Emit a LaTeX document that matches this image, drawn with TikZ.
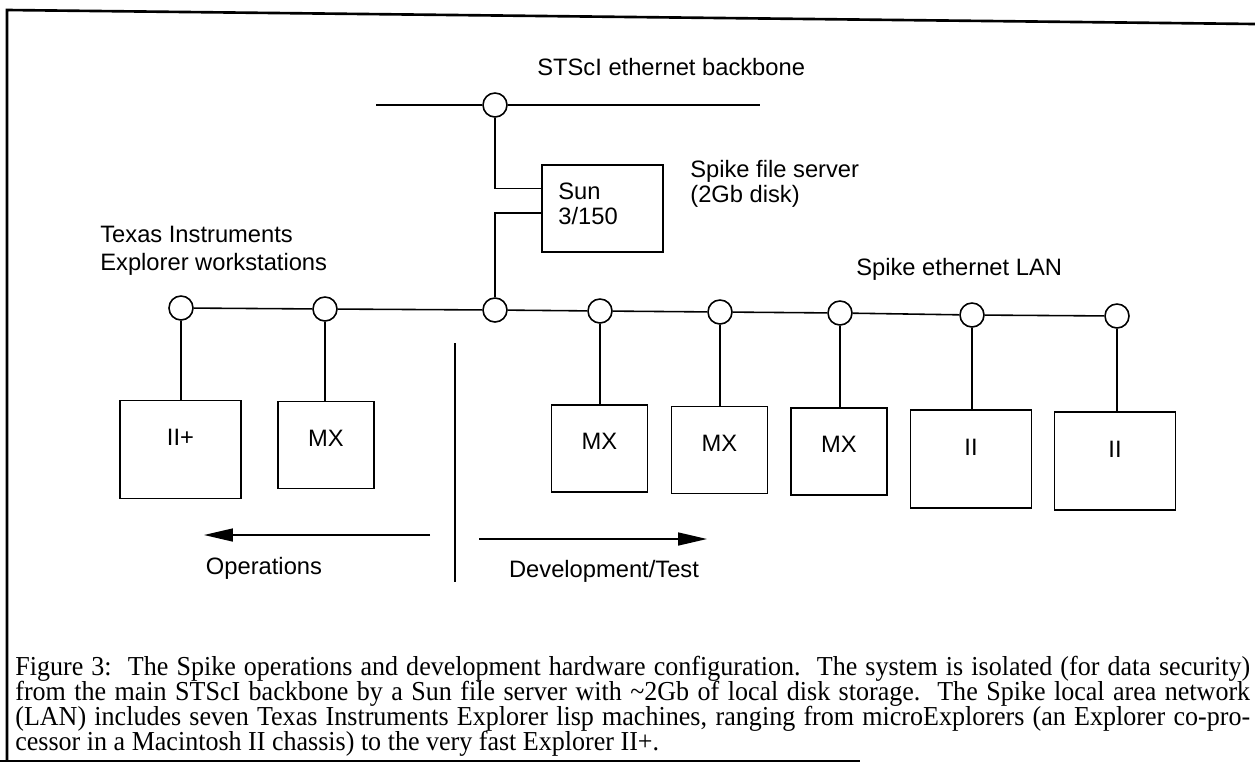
\documentclass[tikz,border=0pt]{standalone}
\usepackage{fontspec}
\usetikzlibrary{arrows.meta,calc}
\newfontfamily\lblfont{Liberation Sans}
\newfontfamily\capfont[FakeStretch=0.95]{Liberation Serif}
\def\capline#1{\makebox[24.7cm][s]{#1}}

\begin{document}
\begin{tikzpicture}[x=0.02cm,y=-0.02cm,
	every node/.style={font=\lblfont\fontsize{13.5}{16}\selectfont},
	hub/.style={draw,circle,fill=white,inner sep=0pt,minimum size=0.48cm,line width=0.9pt},
	ws/.style={draw,line width=1pt,inner sep=0pt},
	mx/.style={ws,text depth=8pt,minimum width=1.92cm,minimum height=1.74cm},
	xp/.style={ws,text depth=13.6pt,minimum width=2.42cm,minimum height=1.96cm},
	net/.style={line width=0.9pt},
	frame/.style={line width=1.5pt},
	dir/.style={line width=0.9pt,-{Triangle[length=0.58cm,width=0.26cm]}},
	lbl/.style={anchor=base west,inner sep=0pt},
	captxt/.style={lbl,font=\capfont\fontsize{15.6}{18}\selectfont}
]
	\useasboundingbox (0,0) rectangle (1255,775);
	
	%%%%% FRAME %%%%%
	\coordinate (ftl) at (7,10);
	\coordinate (ftr) at (1255,24);
	\coordinate (fbl) at (7,761);
	\coordinate (fb0) at (0,761);
	\coordinate (fbr) at (860,761);
	\draw[frame] (ftr) -- (ftl) -- (fbl);
	\draw[frame] (fb0) -- (fbr);
	
	%%%%% BACKBONE %%%%%
	\node[lbl] (bbtxt) at (537,75) {STScI ethernet backbone};
	\coordinate (bbw) at (376,105);
	\coordinate (bbe) at (760,105);
	\node[hub] (bb) at (495,105) {};
	\draw[net] (bbw) -- (bb) -- (bbe);
	
	\node[ws,minimum width=2.42cm,minimum height=1.74cm] (sun) at (602.5,208.5) {};
	\node[lbl] (sun1) at (558,199) {Sun};
	\node[lbl] (sun2) at (558,224) {3/150};
	\node[lbl] (fs1) at (690,177) {Spike file server};
	\node[lbl] (fs2) at (690,202) {(2Gb disk)};
	\draw[net] (bb) |- ($(sun.west)+(0,-20)$);
	
	%%%%% LAN %%%%%
	\node[lbl] (tx1) at (100,242) {Texas Instruments};
	\node[lbl] (tx2) at (100,270) {Explorer workstations};
	\node[lbl] (lantxt) at (856,275) {Spike ethernet LAN};
	
	\node[hub] (n1) at (181,308) {};
	\node[hub] (n2) at (325,309) {};
	\node[hub] (n3) at (495,310) {};
	\node[hub] (n4) at (600,311) {};
	\node[hub] (n5) at (720,312) {};
	\node[hub] (n6) at (840,313) {};
	\node[hub] (n7) at (972,315) {};
	\node[hub] (n8) at (1117,316) {};
	\draw[net] (n1) -- (n2) -- (n3) -- (n4) -- (n5) -- (n6) -- (n7) -- (n8);
	\draw[net] ($(sun.west)+(0,4.5)$) -| (n3);
	
	\node[xp] (b1) at (180.5,449.5) {II+};
	\node[mx] (b2) at (326,445) {MX};
	\node[mx] (b3) at (599.5,448.5) {MX};
	\node[mx] (b4) at (719.5,450) {MX};
	\node[mx] (b5) at (839,451.5) {MX};
	\node[xp] (b6) at (971,459) {II};
	\node[xp] (b7) at (1115,461) {II};
	\foreach \h/\b in {n1/b1,n2/b2,n4/b3,n5/b4,n6/b5,n7/b6,n8/b7}
		\draw[net] (\h) -- (\h |- \b.north);
	
	%%%%% OPS / DEV %%%%%
	\coordinate (sept) at (455,343);
	\coordinate (sepb) at (455,582);
	\draw[net] (sept) -- (sepb);
	\coordinate (opsa) at (430,535);
	\coordinate (opsb) at (204,535);
	\draw[dir] (opsa) -- (opsb);
	\coordinate (deva) at (479,539);
	\coordinate (devb) at (707,539);
	\draw[dir] (deva) -- (devb);
	\node (ops) at (264,568) {Operations};
	\node (dev) at (604,571) {Development/Test};
	
	%%%%% CAPTION %%%%%
	\node[captxt] (cap1) at (15,675) {\capline{Figure 3:\ \ The Spike operations and development hardware configuration.\ \ The system is isolated (for data security)}};
	\node[captxt] (cap2) at (15,700) {\capline{from the main STScI backbone by a Sun file server with \textasciitilde2Gb of local disk storage.\ \ The Spike local area network}};
	\node[captxt] (cap3) at (15,725) {\capline{(LAN) includes seven Texas Instruments Explorer lisp machines, ranging from microExplorers (an Explorer co-pro-}};
	\node[captxt] (cap4) at (15,750) {cessor in a Macintosh II chassis) to the very fast Explorer II+.};
\end{tikzpicture}
\end{document}
